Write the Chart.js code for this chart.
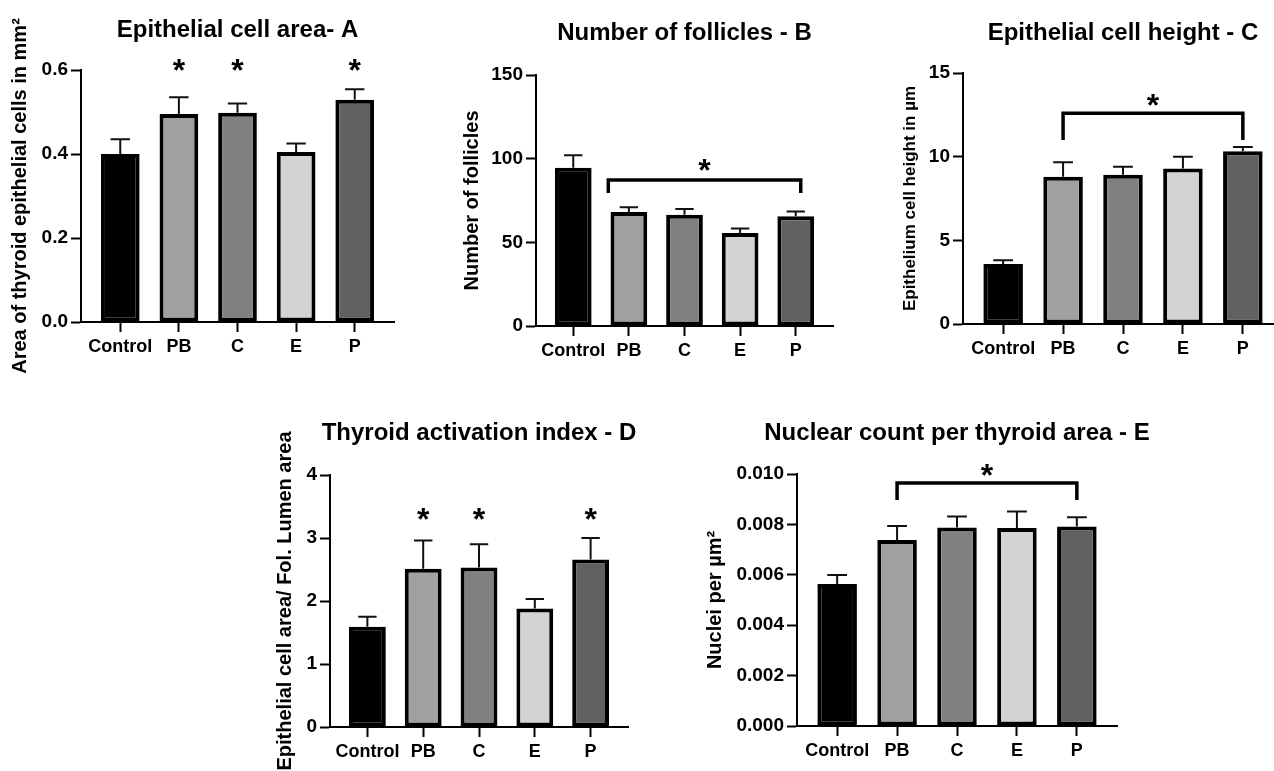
<!DOCTYPE html>
<html>
<head>
<meta charset="utf-8">
<script src="https://cdn.jsdelivr.net/npm/chart.js@4.4.1/dist/chart.umd.min.js"></script>
<style>
  html, body { margin: 0; padding: 0; background: #fff; }
  body { width: 1274px; height: 771px; position: relative; overflow: hidden; }
  canvas { position: absolute; }
</style>
</head>
<body>
<canvas id="chartA"></canvas>
<canvas id="chartB"></canvas>
<canvas id="chartC"></canvas>
<canvas id="chartD"></canvas>
<canvas id="chartE"></canvas>
<script>
// ===== Data =====
const groups = ['Control', 'PB', 'C', 'E', 'P'];
const groupColors = ['#000000', '#a0a0a0', '#808080', '#d3d3d3', '#616161'];

// A - epithelial cell area (mean, SEM)
const areaMean = [0.400, 0.495, 0.498, 0.405, 0.529];
const areaSem  = [0.035, 0.040, 0.022, 0.020, 0.025];

// B - number of follicles
const follicleMean = [94.6, 68.1, 66.5, 55.6, 65.6];
const follicleSem  = [7.4, 2.8, 3.4, 2.6, 2.9];

// C - epithelial cell height
const heightMean = [3.59, 8.80, 8.92, 9.30, 10.33];
const heightSem  = [0.22, 0.87, 0.47, 0.69, 0.25];

// D - thyroid activation index
const indexMean = [1.59, 2.51, 2.53, 1.88, 2.66];
const indexSem  = [0.16, 0.45, 0.37, 0.15, 0.34];

// E - nuclear count per area
const nucleiMean = [0.00563, 0.00738, 0.00788, 0.00786, 0.00792];
const nucleiSem  = [0.00036, 0.00056, 0.00043, 0.00065, 0.00036];

// y ticks: [max, step, decimals]
const areaTicks     = [0.6, 0.2, 1];
const follicleTicks = [150, 50, 0];
const heightTicks   = [15, 5, 0];
const indexTicks    = [4, 1, 0];
const nucleiTicks   = [0.010, 0.002, 3];

// significance: groups marked with * / bracket span (group units)
const areaStars = [1, 2, 4];
const indexStars = [1, 2, 4];
const follicleBracket = [0.63, 4.09];
const heightBracket = [1, 4];
const nucleiBracket = [1, 4];

// ===== Defaults =====
const fontStack = '"Liberation Sans", Arial, sans-serif';
Chart.defaults.font.family = fontStack;
Chart.defaults.font.weight = 'bold';
Chart.defaults.color = '#000';

// ===== Panels =====
const panels = [
  { id: 'chartA', title: 'Epithelial cell area- A', yTitle: 'Area of thyroid epithelial cells in mm²',
    mean: areaMean, sem: areaSem, ticks: areaTicks,
    canvas: [0, 0, 420, 390], plot: [81, 70, 394, 322], titleY: 30, yTitleX: 20, yTitleSize: 20,
    sig: { stars: areaStars, starY: 0.617 } },
  { id: 'chartB', title: 'Number of follicles - B', yTitle: 'Number of follicles',
    mean: follicleMean, sem: follicleSem, ticks: follicleTicks,
    canvas: [420, 0, 430, 390], plot: [536, 75, 833, 326], titleY: 33, yTitleX: 472, yTitleSize: 20,
    sig: { bracket: follicleBracket, barY: 87.2, legY: 79.5, starY: 97.4 } },
  { id: 'chartC', title: 'Epithelial cell height - C', yTitle: 'Epithelium cell height in µm',
    mean: heightMean, sem: heightSem, ticks: heightTicks,
    canvas: [850, 0, 450, 390], plot: [963, 73, 1283, 324], titleY: 33, yTitleX: 910, yTitleSize: 17,
    sig: { bracket: heightBracket, barY: 12.6, legY: 11.0, starY: 13.5 } },
  { id: 'chartD', title: 'Thyroid activation index - D', yTitle: 'Epithelial cell area/ Fol. Lumen area',
    mean: indexMean, sem: indexSem, ticks: indexTicks,
    canvas: [240, 395, 420, 376], plot: [330, 475, 628, 727], titleY: 433, yTitleX: 285, yTitleSize: 20,
    sig: { stars: indexStars, starY: 3.41 } },
  { id: 'chartE', title: 'Nuclear count per thyroid area - E', yTitle: 'Nuclei per µm²',
    mean: nucleiMean, sem: nucleiSem, ticks: nucleiTicks,
    canvas: [680, 395, 520, 376], plot: [797, 474, 1117, 726], titleY: 433, yTitleX: 715, yTitleSize: 20,
    sig: { bracket: nucleiBracket, barY: 0.00964, legY: 0.00897, starY: 0.01024 } }
];

// ===== Title, error bars + significance marks =====
function marksPlugin(p) {
  return {
    id: 'marks',
    afterDatasetsDraw(chart) {
      const { ctx, chartArea } = chart;
      const x = chart.scales.x, y = chart.scales.y;
      const bars = chart.getDatasetMeta(0).data;
      ctx.save();

      // title, centred over the plot area
      ctx.fillStyle = '#000';
      ctx.font = 'bold 24px ' + fontStack;
      ctx.textAlign = 'center';
      ctx.textBaseline = 'middle';
      ctx.fillText(p.title, (chartArea.left + chartArea.right) / 2, p.titleY - p.canvas[1]);

      // SEM error bars (upper only)
      ctx.strokeStyle = '#111';
      ctx.lineWidth = 2;
      bars.forEach((bar, i) => {
        const top = y.getPixelForValue(p.mean[i] + p.sem[i]);
        const half = bar.width * 0.25;
        ctx.beginPath();
        ctx.moveTo(bar.x, bar.y);
        ctx.lineTo(bar.x, top);
        ctx.moveTo(bar.x - half, top);
        ctx.lineTo(bar.x + half, top);
        ctx.stroke();
      });

      const size = 32;
      ctx.font = 'bold ' + size + 'px ' + fontStack;
      ctx.textBaseline = 'alphabetic';
      const star = (px, py) => ctx.fillText('*', px, py + size * 0.57);

      const s = p.sig;
      if (s.stars) {
        s.stars.forEach(i => star(bars[i].x, y.getPixelForValue(s.starY)));
      }
      if (s.bracket) {
        const x1 = x.getPixelForValue(s.bracket[0]);
        const x2 = x.getPixelForValue(s.bracket[1]);
        const yb = y.getPixelForValue(s.barY);
        const yl = y.getPixelForValue(s.legY);
        ctx.strokeStyle = '#000';
        ctx.lineWidth = 3.5;
        ctx.beginPath();
        ctx.moveTo(x1, yl);
        ctx.lineTo(x1, yb);
        ctx.lineTo(x2, yb);
        ctx.lineTo(x2, yl);
        ctx.stroke();
        star((x1 + x2) / 2, y.getPixelForValue(s.starY));
      }
      ctx.restore();
    }
  };
}

function buildPanel(p) {
  const [cx, cy, cw, ch] = p.canvas;
  const [L, T, R, B] = p.plot;
  const el = document.getElementById(p.id);
  el.width = cw;
  el.height = ch;
  el.style.left = cx + 'px';
  el.style.top = cy + 'px';

  const xh = 40;
  const yTitleLH = p.yTitleSize * 1.2;
  const axisGrid = { drawOnChartArea: false, drawTicks: true, tickLength: 10, tickWidth: 2, tickColor: '#000', offset: false };
  const axisBorder = { display: true, color: '#000', width: 2 };

  new Chart(el, {
    type: 'bar',
    data: {
      datasets: [{
        data: p.mean.map((v, i) => ({ x: i, y: v })),
        backgroundColor: groupColors,
        borderColor: '#000',
        borderWidth: 4,
        borderSkipped: false,
        barPercentage: 0.66,
        categoryPercentage: 1
      }]
    },
    options: {
      responsive: false,
      animation: false,
      devicePixelRatio: 1,
      layout: { padding: { left: 0, top: T - cy, right: cw - (R - cx), bottom: ch - (B - cy) - xh } },
      plugins: {
        legend: { display: false },
        tooltip: { enabled: false },
        title: { display: false }
      },
      scales: {
        x: {
          type: 'linear',
          min: -0.67,
          max: 4.67,
          offset: false,
          afterFit: s => { s.height = xh; },
          ticks: {
            stepSize: 1,
            includeBounds: false,
            autoSkip: false,
            maxRotation: 0,
            padding: 4,
            font: { size: 18, weight: 'bold' },
            color: '#000',
            callback: v => groups[v] ?? ''
          },
          grid: axisGrid,
          border: axisBorder
        },
        y: {
          min: 0,
          max: p.ticks[0],
          afterFit: s => { s.width = L - cx; },
          ticks: {
            stepSize: p.ticks[1],
            padding: 3,
            font: { size: 19, weight: 'bold' },
            color: '#000',
            callback: v => Number(v).toFixed(p.ticks[2])
          },
          grid: axisGrid,
          border: axisBorder,
          title: {
            display: true,
            text: p.yTitle,
            color: '#000',
            font: { size: p.yTitleSize, weight: 'bold' },
            padding: { top: p.yTitleX - cx - yTitleLH / 2, bottom: 0 }
          }
        }
      }
    },
    plugins: [marksPlugin(p)]
  });
}

panels.forEach(buildPanel);
</script>
</body>
</html>
